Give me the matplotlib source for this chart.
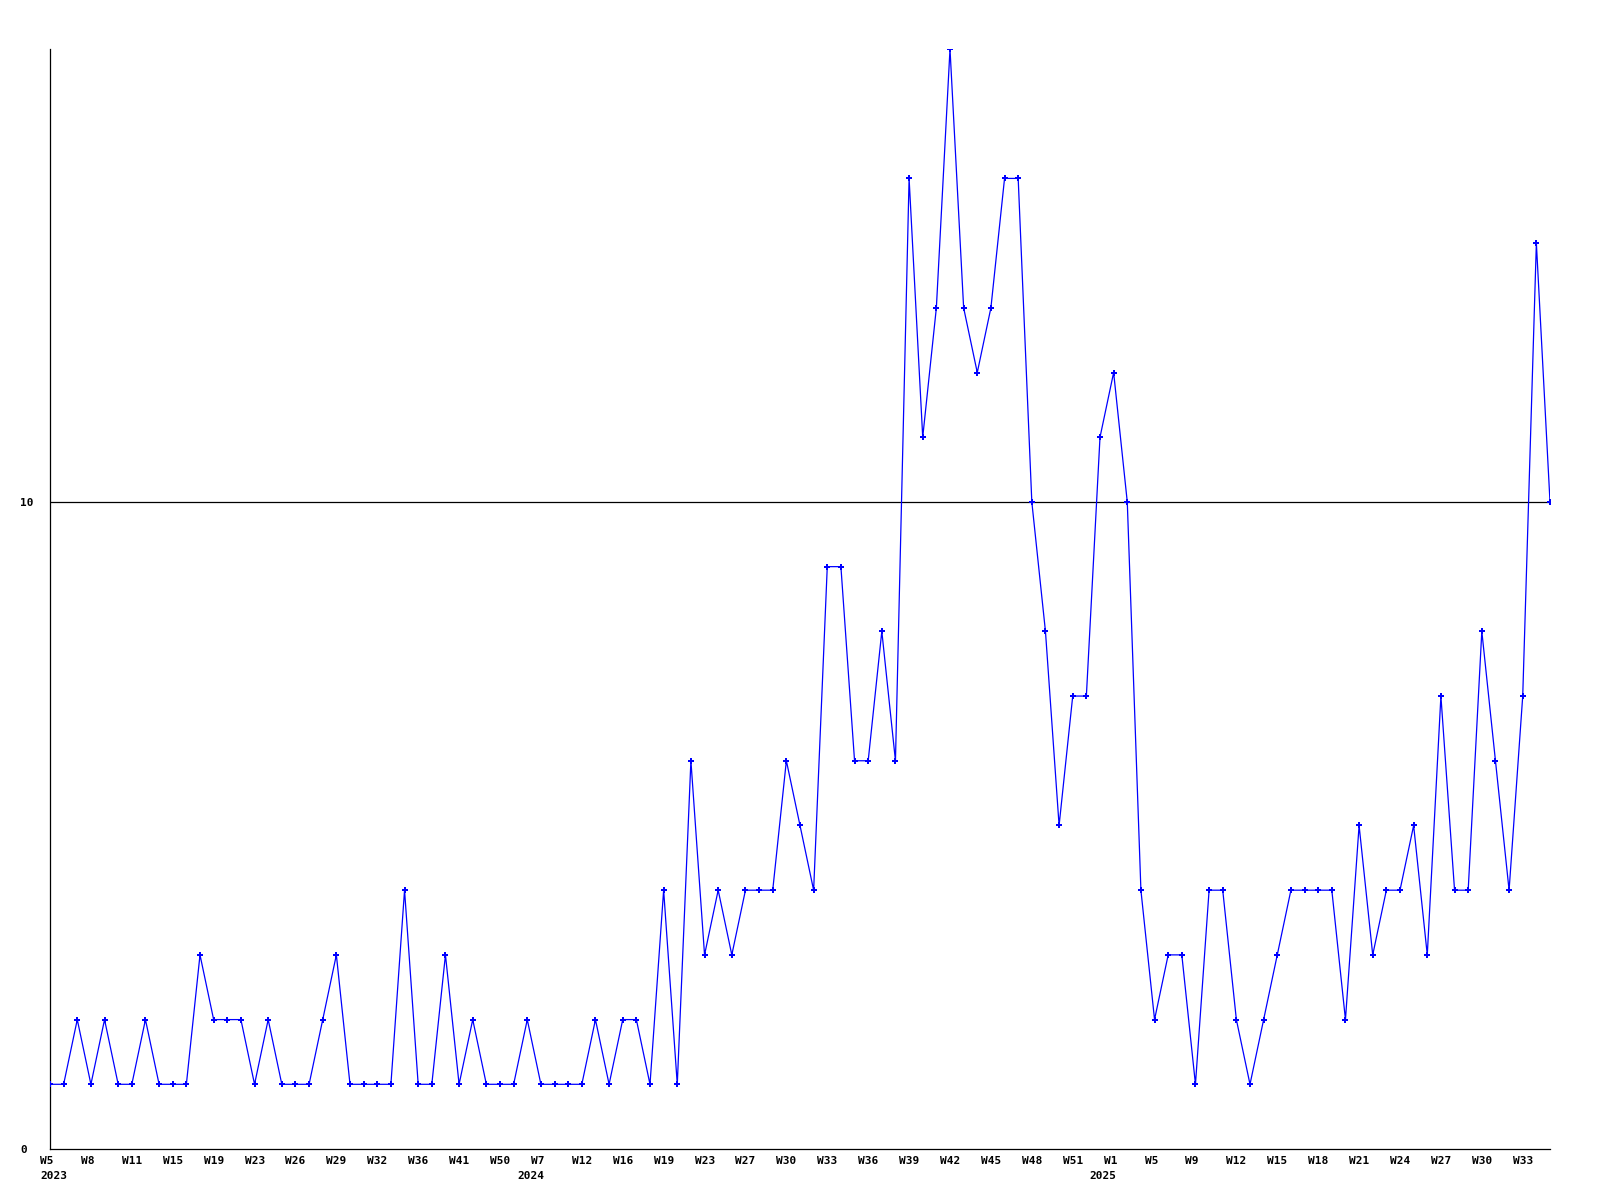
import matplotlib
matplotlib.use('Agg')
import matplotlib.pyplot as plt
import matplotlib.transforms as mtransforms
import numpy as np

# weekly counts, one value per week that has data
values = [1, 1, 2, 1, 2, 1, 1, 2, 1, 1,
          1, 3, 2, 2, 2, 1, 2, 1, 1, 1,
          2, 3, 1, 1, 1, 1, 4, 1, 1, 3,
          1, 2, 1, 1, 1, 2, 1, 1, 1, 1,
          2, 1, 2, 2, 1, 4, 1, 6, 3, 4,
          3, 4, 4, 4, 6, 5, 4, 9, 9, 6,
          6, 8, 6, 15, 11, 13, 17, 13, 12, 13,
          15, 15, 10, 8, 5, 7, 7, 11, 12, 10,
          4, 2, 3, 3, 1, 4, 4, 2, 1, 2,
          3, 4, 4, 4, 4, 2, 5, 3, 4, 4,
          5, 3, 7, 4, 4, 8, 6, 4, 7, 14,
          10]

# a label on every third point
tick_labels = ['W5', 'W8', 'W11', 'W15', 'W19', 'W23', 'W26', 'W29', 'W32',
               'W36', 'W41', 'W50', 'W7', 'W12', 'W16', 'W19', 'W23', 'W27',
               'W30', 'W33', 'W36', 'W39', 'W42', 'W45', 'W48', 'W51', 'W1',
               'W5', 'W9', 'W12', 'W15', 'W18', 'W21', 'W24', 'W27', 'W30', 'W33']
year_pos = [0, 36, 78]
year_labels = ['2023', '2024', '2025']
y_ticks = [0, 10]

x = np.arange(len(values))

fig = plt.figure(figsize=(16, 12), dpi=100)
ax = fig.add_axes([50 / 1600, 51 / 1200, 1500 / 1600, 1100 / 1200])

ax.axhline(10, color='black', lw=0.9, zorder=1)
ax.plot(x, values, color='#0000ff', lw=0.9, marker='P', markersize=3.8,
        markeredgewidth=0, zorder=3)

ax.set_xlim(0, len(values) - 1)
ax.set_ylim(0, 17)

for s in ['top', 'right']:
    ax.spines[s].set_visible(False)
for s in ['left', 'bottom']:
    ax.spines[s].set_linewidth(0.9)

font = dict(family='DejaVu Sans Mono', weight='bold', size=8)

ax.set_xticks(x[::3])
ax.set_xticklabels(tick_labels, ha='left', **font)
ax.tick_params(axis='x', length=0, pad=5)
# labels start a bit left of their point
shift = mtransforms.ScaledTranslation(-10 / 100, 0, fig.dpi_scale_trans)
for lab in ax.get_xticklabels():
    lab.set_transform(lab.get_transform() + shift)

# year under the first week of each year
for i, (p, yr) in enumerate(zip(year_pos, year_labels)):
    dx = -7.2 if i == 0 else -17.3
    ax.annotate(yr, xy=(p, 0), xycoords=('data', 'axes fraction'),
                xytext=(dx, -19.4), textcoords='offset points',
                ha='left', va='center', annotation_clip=False, **font)

ax.set_yticks(y_ticks)
ax.set_yticklabels([str(t) for t in y_ticks], ha='left', **font)
ax.tick_params(axis='y', length=0, pad=21.6)

fig.savefig('out.png', dpi=100)
